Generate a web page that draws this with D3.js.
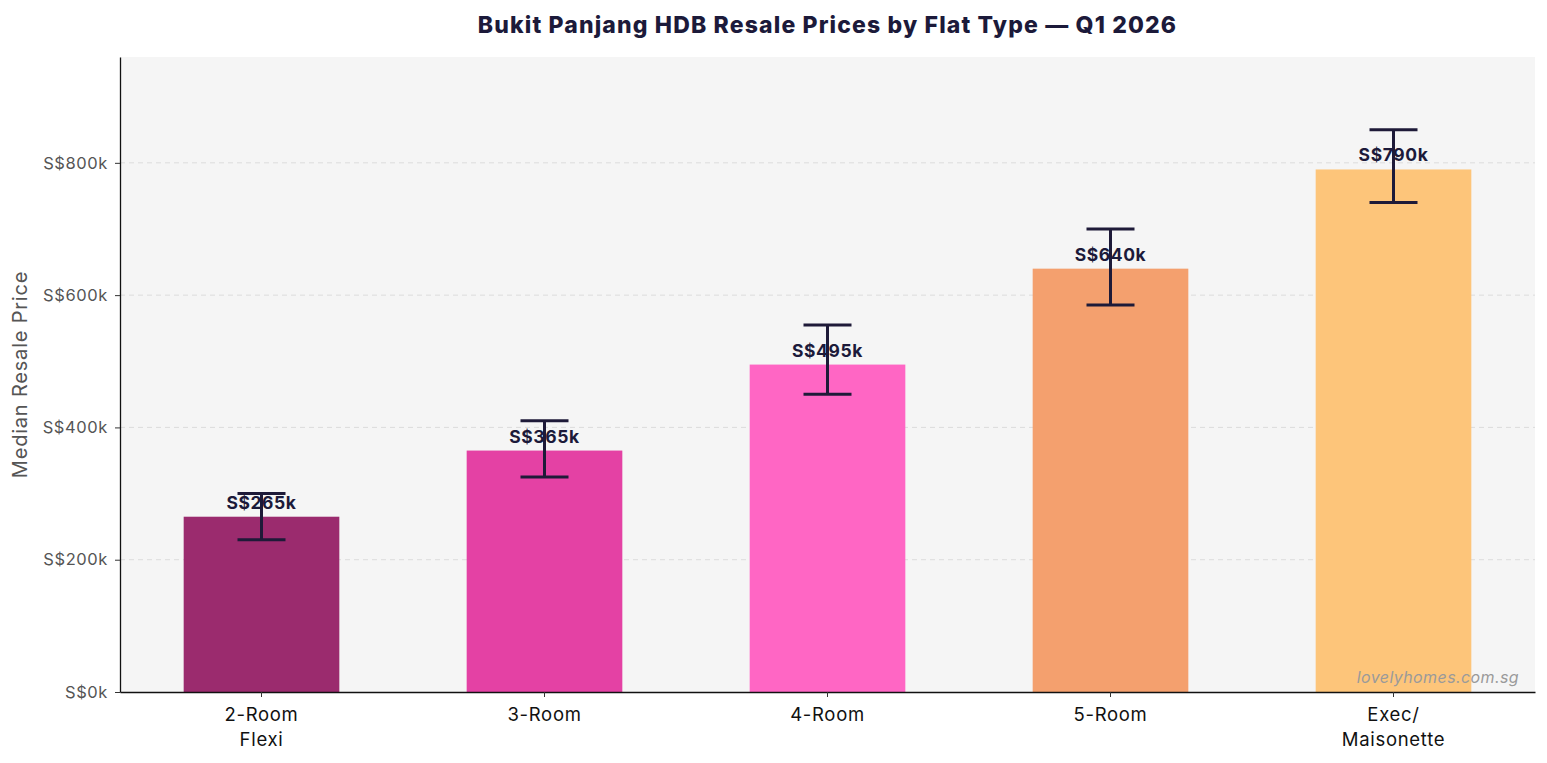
<!DOCTYPE html>
<html><head><meta charset="utf-8">
<script src="https://cdn.jsdelivr.net/npm/d3@7"></script>
<style>
body{margin:0;background:#fff;}
text{font-family:Inter,"Noto Sans",sans-serif;}
</style></head>
<body>
<svg id="chart" width="1547" height="763"></svg>
<script>
const categories = ["2-Room\nFlexi","3-Room","4-Room","5-Room","Exec/\nMaisonette"];
const medians = [265000,365000,495000,640000,790000];
const lows = [230000,325000,450000,585000,740000];
const highs = [300000,410000,555000,700000,850000];
const labels = ["S$265k","S$365k","S$495k","S$640k","S$790k"];
const colors = ["#9b2b6e","#e441a4","#ff66c4","#f4a06e","#fdc57a"];
const yTicks = [0,200000,400000,600000,800000];

const svg = d3.select("#chart");
const m = {l:120, r:12, t:57, b:71};
const W = 1547, H = 763;
const iw = W-m.l-m.r, ih = H-m.t-m.b;
const g = svg.append("g").attr("transform",`translate(${m.l},${m.t})`);

const x = d3.scaleBand().domain(categories).range([0,iw]).paddingInner(0.45).paddingOuter(0.225);
const y = d3.scaleLinear().domain([0,960000]).range([ih,0]);

g.append("rect").attr("width",iw).attr("height",ih).attr("fill","#f5f5f5");

g.selectAll(".grid").data(yTicks.slice(1)).join("line")
  .attr("x1",0).attr("x2",iw).attr("y1",d=>y(d)).attr("y2",d=>y(d))
  .attr("stroke","#dcdcdc").attr("stroke-width",1).attr("stroke-dasharray","5,4");

g.selectAll(".bar").data(categories).join("rect")
  .attr("x",d=>x(d)).attr("width",x.bandwidth())
  .attr("y",(d,i)=>y(medians[i])).attr("height",(d,i)=>ih-y(medians[i]))
  .attr("fill",(d,i)=>colors[i]);

g.selectAll(".vlab").data(categories).join("text")
  .attr("x",d=>x(d)+x.bandwidth()/2).attr("y",(d,i)=>y(medians[i])-8)
  .attr("text-anchor","middle").attr("font-size",17.5).attr("font-weight",700)
  .attr("letter-spacing","0.6px")
  .attr("fill","#1c1a3a").text((d,i)=>labels[i]);

const eb = g.selectAll(".eb").data(categories).join("g");
const cw = 24;
eb.append("line").attr("x1",d=>x(d)+x.bandwidth()/2).attr("x2",d=>x(d)+x.bandwidth()/2)
  .attr("y1",(d,i)=>y(lows[i])).attr("y2",(d,i)=>y(highs[i]));
eb.append("line").attr("x1",d=>x(d)+x.bandwidth()/2-cw).attr("x2",d=>x(d)+x.bandwidth()/2+cw)
  .attr("y1",(d,i)=>y(lows[i])).attr("y2",(d,i)=>y(lows[i]));
eb.append("line").attr("x1",d=>x(d)+x.bandwidth()/2-cw).attr("x2",d=>x(d)+x.bandwidth()/2+cw)
  .attr("y1",(d,i)=>y(highs[i])).attr("y2",(d,i)=>y(highs[i]));
eb.selectAll("line").attr("stroke","#1e1a38").attr("stroke-width",3);

const yAxis = g.append("g").call(d3.axisLeft(y).tickValues(yTicks).tickSize(5).tickSizeOuter(0).tickPadding(7)
  .tickFormat(d=>"S$"+(d/1000)+"k"));
yAxis.select(".domain").attr("stroke","#111").attr("stroke-width",1.3);
yAxis.selectAll(".tick line").attr("stroke","#333");
yAxis.selectAll(".tick text").attr("font-size",16.5).attr("fill","#555").attr("letter-spacing","0.6px").attr("font-family","Inter,sans-serif");

const xAxis = g.append("g").attr("transform",`translate(0,${ih})`)
  .call(d3.axisBottom(x).tickSize(5).tickSizeOuter(0).tickPadding(11));
xAxis.select(".domain").attr("stroke","#111").attr("stroke-width",1.3);
xAxis.selectAll(".tick line").attr("stroke","#333");
xAxis.selectAll(".tick text").each(function(d){
  const t = d3.select(this); t.text(null);
  t.attr("font-size",18.5).attr("fill","#111").attr("letter-spacing","0.7px").attr("font-family","Inter,sans-serif");
  d.split("\n").forEach((s,i)=>t.append("tspan").attr("x",0).attr("dy",i===0?"0.71em":"1.35em").text(s));
});

g.append("text").attr("x",iw-16).attr("y",ih-9).attr("text-anchor","end")
  .attr("font-size",16).attr("letter-spacing","0.4px").attr("font-style","italic").attr("fill","#9a9a9a").text("lovelyhomes.com.sg");

svg.append("text").attr("x",m.l+iw/2).attr("y",33).attr("text-anchor","middle")
  .attr("font-size",23).attr("font-weight",800).attr("letter-spacing","1.15px").attr("fill","#1c1a3a")
  .text("Bukit Panjang HDB Resale Prices by Flat Type — Q1 2026");

svg.append("text").attr("transform",`translate(27,${m.t+ih/2}) rotate(-90)`)
  .attr("text-anchor","middle").attr("font-size",20).attr("letter-spacing","0.8px").attr("fill","#555")
  .text("Median Resale Price");
</script>
</body></html>
